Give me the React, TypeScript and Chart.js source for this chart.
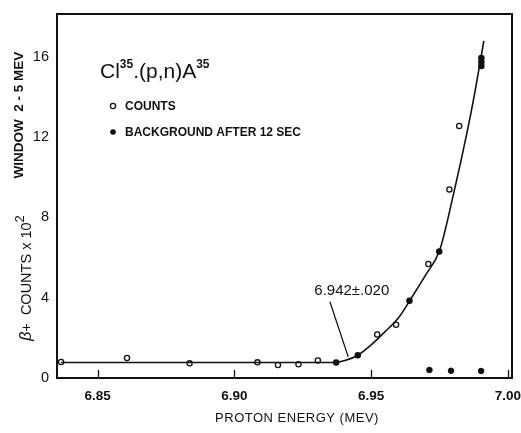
import React, { useEffect, useRef } from "react";
import { Chart, registerables } from "chart.js";

Chart.register(...registerables);

// ---- data ----
const countsX = [6.8366, 6.8607, 6.8836, 6.9084, 6.9159, 6.9234, 6.9305, 6.9372, 6.9451, 6.9522, 6.9591, 6.964, 6.9709, 6.9749, 6.9786, 6.9822, 6.9903, 6.9903, 6.9903];
const countsY = [0.8, 1.0, 0.73, 0.78, 0.65, 0.68, 0.87, 0.77, 1.13, 2.17, 2.65, 3.85, 5.68, 6.3, 9.4, 12.56, 15.95, 15.75, 15.55];
const countsSolid = [7, 8, 11, 13, 16, 17, 18];
const backgroundX = [6.9713, 6.9792, 6.9902];
const backgroundY = [0.4, 0.36, 0.35];
const curveX = [6.8366, 6.9365, 6.94, 6.945, 6.95, 6.955, 6.96, 6.965, 6.97, 6.975, 6.98, 6.985, 6.988, 6.9912];
const curveY = [0.77, 0.77, 0.86, 1.12, 1.65, 2.3, 3.0, 4.05, 5.15, 6.35, 9.1, 12.2, 14.3, 16.8];
const xTicks = [6.85, 6.9, 6.95, 7.0];
const yTicks = [0, 4, 8, 12, 16];
const thresholdLabel = "6.942\u00B1.020";
const thresholdArrow = { x1: 6.9349, y1: 3.8, x2: 6.9416, y2: 1.06, tx: 6.9429, ty: 4.32 };
const legendCounts = "COUNTS";
const legendBackground = "BACKGROUND AFTER 12 SEC";
const xTitle = "PROTON ENERGY (MEV)";
const yTitleTop = "WINDOW  2 - 5 MEV";

const FAM = "'Liberation Sans', Arial, sans-serif";
const INK = "#111";

type Seg = { t: string; font: string; dy?: number };

function drawSegs(ctx: CanvasRenderingContext2D, segs: Seg[], x: number, y: number, align: "left" | "center") {
  let total = 0;
  for (const s of segs) {
    ctx.font = s.font;
    total += ctx.measureText(s.t).width;
  }
  let cx = align === "center" ? x - total / 2 : x;
  ctx.textAlign = "left";
  for (const s of segs) {
    ctx.font = s.font;
    ctx.fillText(s.t, cx, y + (s.dy || 0));
    cx += ctx.measureText(s.t).width;
  }
}

const decorPlugin = {
  id: "decor",
  afterDraw(chart: any) {
    const { ctx, chartArea: a, scales } = chart;
    const xs = scales.x;
    const ys = scales.y;
    ctx.save();
    ctx.strokeStyle = INK;
    ctx.fillStyle = INK;
    // frame
    ctx.lineWidth = 2;
    ctx.strokeRect(a.left, a.top, a.right - a.left, a.bottom - a.top);
    // inner x tick marks
    ctx.lineWidth = 1.3;
    for (const v of xTicks) {
      const px = Math.round(xs.getPixelForValue(v)) + 0.5;
      ctx.beginPath();
      ctx.moveTo(px, a.bottom);
      ctx.lineTo(px, a.bottom - 8);
      ctx.stroke();
    }
    // threshold arrow + label
    ctx.lineWidth = 1.2;
    ctx.beginPath();
    ctx.moveTo(xs.getPixelForValue(thresholdArrow.x1), ys.getPixelForValue(thresholdArrow.y1));
    ctx.lineTo(xs.getPixelForValue(thresholdArrow.x2), ys.getPixelForValue(thresholdArrow.y2));
    ctx.stroke();
    ctx.textBaseline = "middle";
    ctx.textAlign = "center";
    ctx.font = `15px ${FAM}`;
    ctx.fillText(thresholdLabel, xs.getPixelForValue(thresholdArrow.tx), ys.getPixelForValue(thresholdArrow.ty));

    // reaction title
    ctx.textBaseline = "alphabetic";
    const big = `21px ${FAM}`;
    const sup = `bold 12px ${FAM}`;
    drawSegs(ctx, [
      { t: "Cl", font: big },
      { t: "35", font: sup, dy: -10 },
      { t: ".(p,n)", font: big },
      { t: "A", font: big },
      { t: "35", font: sup, dy: -10 },
    ], a.left + 43, a.top + 64, "left");

    // legend
    const lx = a.left + 56;
    const r1 = a.top + 92;
    const r2 = a.top + 118;
    ctx.lineWidth = 1.3;
    ctx.beginPath();
    ctx.arc(lx, r1, 2.6, 0, Math.PI * 2);
    ctx.fillStyle = "#fff";
    ctx.fill();
    ctx.stroke();
    ctx.fillStyle = INK;
    ctx.beginPath();
    ctx.arc(lx, r2, 2.8, 0, Math.PI * 2);
    ctx.fill();
    ctx.textBaseline = "middle";
    ctx.textAlign = "left";
    ctx.font = `bold 12px ${FAM}`;
    ctx.fillText(legendCounts, lx + 12, r1 + 0.5);
    ctx.fillText(legendBackground, lx + 12, r2 + 0.5);

    // x title
    ctx.textAlign = "center";
    ctx.textBaseline = "middle";
    ctx.font = `13px ${FAM}`;
    (ctx as any).letterSpacing = "0.5px";
    ctx.fillText(xTitle, 297, 418);
    (ctx as any).letterSpacing = "0px";

    // rotated y titles
    ctx.save();
    ctx.translate(19, 115);
    ctx.rotate(-Math.PI / 2);
    ctx.textAlign = "center";
    ctx.textBaseline = "middle";
    ctx.font = `bold 13.5px ${FAM}`;
    ctx.fillText(yTitleTop, 0, 0);
    ctx.restore();

    ctx.save();
    ctx.translate(27, 278);
    ctx.rotate(-Math.PI / 2);
    ctx.textBaseline = "middle";
    drawSegs(ctx, [
      { t: "\u03B2", font: `italic 16px ${FAM}` },
      { t: "+  COUNTS x 10", font: `14.5px ${FAM}` },
      { t: "2", font: `13px ${FAM}`, dy: -7 },
    ], 0, 0, "center");
    ctx.restore();

    ctx.restore();
  },
};

export default function App() {
  const ref = useRef<HTMLCanvasElement | null>(null);
  useEffect(() => {
    document.body.style.margin = "0";
    const canvas = ref.current;
    if (!canvas) return;
    const chart = new Chart(canvas, {
      type: "scatter",
      data: {
        datasets: [
          {
            type: "line",
            label: "fit",
            data: curveX.map((x, i) => ({ x, y: curveY[i] })),
            borderColor: INK,
            borderWidth: 1.6,
            pointRadius: 0,
            fill: false,
            cubicInterpolationMode: "monotone",
            order: 0,
          } as any,
          {
            label: "COUNTS",
            data: countsX.map((x, i) => ({ x, y: countsY[i] })),
            pointRadius: 2.6,
            pointBorderWidth: 1.3,
            pointBorderColor: INK,
            pointBackgroundColor: (c: any) => (countsSolid.includes(c.dataIndex) ? INK : "#fff"),
            order: 1,
          },
          {
            label: "BACKGROUND AFTER 12 SEC",
            data: backgroundX.map((x, i) => ({ x, y: backgroundY[i] })),
            pointRadius: 2.8,
            pointBorderWidth: 1,
            pointBorderColor: INK,
            pointBackgroundColor: INK,
            order: 1,
          },
        ],
      },
      options: {
        animation: false,
        responsive: false,
        events: [],
        layout: { padding: { top: 14, right: 9, left: 0, bottom: 0 } },
        plugins: { legend: { display: false }, tooltip: { enabled: false } },
        scales: {
          x: {
            type: "linear",
            min: 6.8351,
            max: 7.0015,
            afterBuildTicks: (s: any) => {
              s.ticks = xTicks.map((v) => ({ value: v }));
            },
            afterFit: (s: any) => {
              s.height = 55;
              s.paddingLeft = 0;
              s.paddingRight = 0;
            },
            grid: { display: false, drawTicks: false },
            border: { display: false },
            ticks: {
              autoSkip: false,
              maxRotation: 0,
              padding: 10,
              color: INK,
              font: { family: FAM, size: 13.5, weight: "bold" },
              callback: (v: any) => Number(v).toFixed(2),
            },
          },
          y: {
            type: "linear",
            min: 0,
            max: 18.14,
            afterBuildTicks: (s: any) => {
              s.ticks = yTicks.map((v) => ({ value: v }));
            },
            afterFit: (s: any) => {
              s.width = 57;
              s.paddingTop = 0;
              s.paddingBottom = 0;
            },
            grid: { display: false, drawTicks: false },
            border: { display: false },
            ticks: {
              autoSkip: false,
              padding: 8,
              color: INK,
              font: { family: FAM, size: 14.5 },
            },
          },
        },
      },
      plugins: [decorPlugin],
    } as any);
    return () => chart.destroy();
  }, []);
  return (
    <div style={{ width: 521, height: 433, background: "#fff" }}>
      <canvas ref={ref} width={521} height={433} style={{ display: "block" }} />
    </div>
  );
}
